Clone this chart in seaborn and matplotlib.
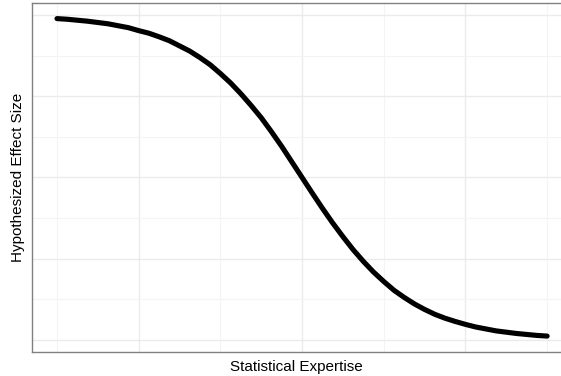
import matplotlib
matplotlib.use("Agg")
import matplotlib.pyplot as plt
import seaborn as sns
import pandas as pd
from matplotlib.ticker import MultipleLocator, NullFormatter

expertise = [-3.0, -2.875, -2.75, -2.625, -2.5, -2.375, -2.25, -2.125,
             -2.0, -1.875, -1.75, -1.625, -1.5, -1.375, -1.25, -1.125,
             -1.0, -0.875, -0.75, -0.625, -0.5, -0.375, -0.25, -0.125,
             0.0, 0.125, 0.25, 0.375, 0.5, 0.625, 0.75, 0.875,
             1.0, 1.125, 1.25, 1.375, 1.5, 1.625, 1.75, 1.875,
             2.0, 2.125, 2.25, 2.375, 2.5, 2.625, 2.75, 2.875, 3.0]
effect_size = [0.989, 0.987, 0.984, 0.981, 0.977, 0.973, 0.967, 0.961,
               0.952, 0.944, 0.933, 0.921, 0.905, 0.889, 0.869, 0.847,
               0.820, 0.791, 0.758, 0.722, 0.684, 0.641, 0.596, 0.548,
               0.500, 0.452, 0.405, 0.360, 0.318, 0.278, 0.242, 0.209,
               0.180, 0.153, 0.131, 0.111, 0.094, 0.079, 0.067, 0.057,
               0.048, 0.040, 0.034, 0.028, 0.024, 0.020, 0.017, 0.014, 0.012]

df = pd.DataFrame({"x": expertise, "y": effect_size})

sns.set_theme(style="white")
plt.rcParams['font.family'] = ['Liberation Sans', 'DejaVu Sans']

fig = plt.figure(figsize=(5.61, 3.76), dpi=100)
ax = fig.add_axes([32/561, 24/376, 1 - 32/561, 349/376])

sns.lineplot(data=df, x="x", y="y", ax=ax, color="black", linewidth=3.7,
             solid_capstyle="round", solid_joinstyle="round")

ax.set_xlim(-3.306, 3.17)
ax.set_ylim(-0.037, 1.037)
ax.xaxis.set_major_locator(MultipleLocator(2))
ax.xaxis.set_minor_locator(MultipleLocator(1))
ax.yaxis.set_major_locator(MultipleLocator(0.25))
ax.yaxis.set_minor_locator(MultipleLocator(0.125))
ax.grid(which="major", color="#EBEBEB", linewidth=1.0)
ax.grid(which="minor", color="#F4F4F4", linewidth=0.8)
ax.set_axisbelow(True)
ax.tick_params(which="both", length=0, labelbottom=False, labelleft=False)
ax.xaxis.set_minor_formatter(NullFormatter())
ax.yaxis.set_minor_formatter(NullFormatter())

for s in ["left", "bottom", "top"]:
    ax.spines[s].set_visible(True)
    ax.spines[s].set_color("#808080")
    ax.spines[s].set_linewidth(1.0)
ax.spines["right"].set_visible(False)

ax.set_xlabel("Statistical Expertise", fontsize=11, color="black", labelpad=6)
ax.set_ylabel("Hypothesized Effect Size", fontsize=11, color="black", labelpad=5)

fig.savefig("out.png", dpi=100)
